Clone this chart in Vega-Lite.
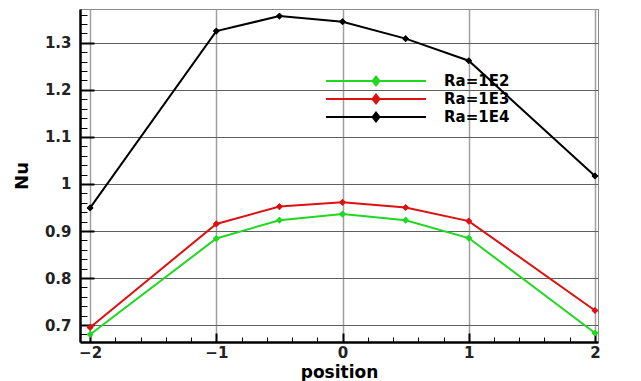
{
  "$schema": "https://vega.github.io/schema/vega-lite/v6.json",
  "width": 518,
  "height": 333,
  "autosize": {"type": "none"},
  "padding": {"left": 80, "top": 9, "right": 43, "bottom": 39},
  "background": "white",
  "config": {"view": {"stroke": "#8c8c8c", "strokeWidth": 1}, "font": "DejaVu Sans"},
  "data": {
    "values": [
      {"position": -2, "Nu": 0.680, "series": "Ra=1E2"},
      {"position": -1, "Nu": 0.884, "series": "Ra=1E2"},
      {"position": -0.5, "Nu": 0.923, "series": "Ra=1E2"},
      {"position": 0, "Nu": 0.936, "series": "Ra=1E2"},
      {"position": 0.5, "Nu": 0.923, "series": "Ra=1E2"},
      {"position": 1, "Nu": 0.885, "series": "Ra=1E2"},
      {"position": 2, "Nu": 0.683, "series": "Ra=1E2"},
      {"position": -2, "Nu": 0.695, "series": "Ra=1E3"},
      {"position": -1, "Nu": 0.915, "series": "Ra=1E3"},
      {"position": -0.5, "Nu": 0.952, "series": "Ra=1E3"},
      {"position": 0, "Nu": 0.961, "series": "Ra=1E3"},
      {"position": 0.5, "Nu": 0.950, "series": "Ra=1E3"},
      {"position": 1, "Nu": 0.921, "series": "Ra=1E3"},
      {"position": 2, "Nu": 0.731, "series": "Ra=1E3"},
      {"position": -2, "Nu": 0.949, "series": "Ra=1E4"},
      {"position": -1, "Nu": 1.325, "series": "Ra=1E4"},
      {"position": -0.5, "Nu": 1.357, "series": "Ra=1E4"},
      {"position": 0, "Nu": 1.345, "series": "Ra=1E4"},
      {"position": 0.5, "Nu": 1.309, "series": "Ra=1E4"},
      {"position": 1, "Nu": 1.262, "series": "Ra=1E4"},
      {"position": 2, "Nu": 1.017, "series": "Ra=1E4"}
    ]
  },
  "resolve": {"scale": {"x": "shared", "y": "shared", "color": "shared"}, "axis": {"x": "independent", "y": "independent"}},
  "layer": [
    {
      "mark": {"type": "line", "strokeWidth": 2},
      "encoding": {
        "x": {
          "field": "position", "type": "quantitative",
          "scale": {"domain": [-2.08, 2.024], "nice": false, "zero": false},
          "axis": {
            "orient": "bottom", "values": [-2, -1, 0, 1, 2], "ticks": false, "labelPadding": 3,
            "labelFont": "DejaVu Sans", "labelFontSize": 15, "labelFontWeight": "bold", "labelColor": "#222",
            "labelFlush": false, "labelOverlap": false,
            "grid": true, "gridColor": "#a0a0a0", "gridWidth": 1.5,
            "domain": true, "domainColor": "#000", "domainWidth": 2.5,
            "title": "position", "titleFont": "DejaVu Sans", "titleFontSize": 17, "titleFontWeight": "bold", "titleColor": "#000",
            "titleY": 35, "titleBaseline": "alphabetic"
          }
        },
        "y": {
          "field": "Nu", "type": "quantitative",
          "scale": {"domain": [0.664, 1.372], "nice": false, "zero": false},
          "axis": {
            "orient": "left", "values": [0.7, 0.8, 0.9, 1, 1.1, 1.2, 1.3], "format": ".1~f", "ticks": false, "labelPadding": 9,
            "labelFont": "DejaVu Sans", "labelFontSize": 15, "labelFontWeight": "bold", "labelColor": "#222",
            "labelFlush": false, "labelOverlap": false,
            "grid": true, "gridColor": "#606060", "gridWidth": 1,
            "domain": true, "domainColor": "#000", "domainWidth": 2.5,
            "title": "Nu", "titleFont": "DejaVu Sans", "titleFontSize": 18, "titleFontWeight": "bold", "titleColor": "#000", "titlePadding": 13
          }
        },
        "color": {
          "field": "series", "type": "nominal",
          "scale": {"domain": ["Ra=1E2", "Ra=1E3", "Ra=1E4"], "range": ["#1fd81f", "#dd1111", "#000000"]},
          "legend": {
            "orient": "none", "legendX": 288, "legendY": 64, "title": null, "padding": 0,
            "symbolType": "M-7.14,0H7.14M-0.5,0L0,-0.64L0.5,0L0,0.64Z", "symbolSize": 196, "symbolStrokeWidth": 2,
            "labelOffset": 60, "labelFont": "DejaVu Sans", "labelFontSize": 15, "labelFontWeight": "bold", "labelColor": "#000",
            "rowPadding": 0,
            "encode": {"symbols": {"update": {"fill": {"scale": "color", "field": "value"}, "stroke": {"scale": "color", "field": "value"}, "opacity": {"value": 1}}}}
          }
        }
      }
    },
    {
      "mark": {"type": "point", "shape": "diamond", "filled": true, "size": 45, "opacity": 1},
      "encoding": {
        "x": {
          "field": "position", "type": "quantitative",
          "axis": {"orient": "bottom", "values": [-2, -1, 0, 1, 2], "tickSize": -9, "tickWidth": 2, "tickColor": "#000", "labels": false, "grid": false, "domain": false, "title": null}
        },
        "y": {
          "field": "Nu", "type": "quantitative",
          "axis": {"orient": "left", "values": [0.7, 0.8, 0.9, 1, 1.1, 1.2, 1.3], "tickSize": -14, "tickWidth": 2, "tickColor": "#000", "labels": false, "grid": false, "domain": false, "title": null}
        },
        "color": {"field": "series", "type": "nominal"}
      }
    },
    {
      "mark": {"type": "point", "shape": "diamond", "filled": true, "size": 45, "opacity": 1},
      "encoding": {
        "x": {
          "field": "position", "type": "quantitative",
          "axis": {"orient": "bottom", "values": [-1.8, -1.6, -1.4, -1.2, -0.8, -0.6, -0.4, -0.2, 0.2, 0.4, 0.6, 0.8, 1.2, 1.4, 1.6, 1.8], "tickSize": -5, "tickWidth": 1, "tickColor": "#000", "labels": false, "grid": false, "domain": false, "title": null}
        },
        "y": {
          "field": "Nu", "type": "quantitative",
          "axis": {"orient": "left", "values": [0.68, 0.72, 0.74, 0.76, 0.78, 0.82, 0.84, 0.86, 0.88, 0.92, 0.94, 0.96, 0.98, 1.02, 1.04, 1.06, 1.08, 1.12, 1.14, 1.16, 1.18, 1.22, 1.24, 1.26, 1.28, 1.32, 1.34, 1.36], "tickSize": -7, "tickWidth": 1, "tickColor": "#000", "labels": false, "grid": false, "domain": false, "title": null}
        },
        "color": {"field": "series", "type": "nominal"}
      }
    }
  ]
}
